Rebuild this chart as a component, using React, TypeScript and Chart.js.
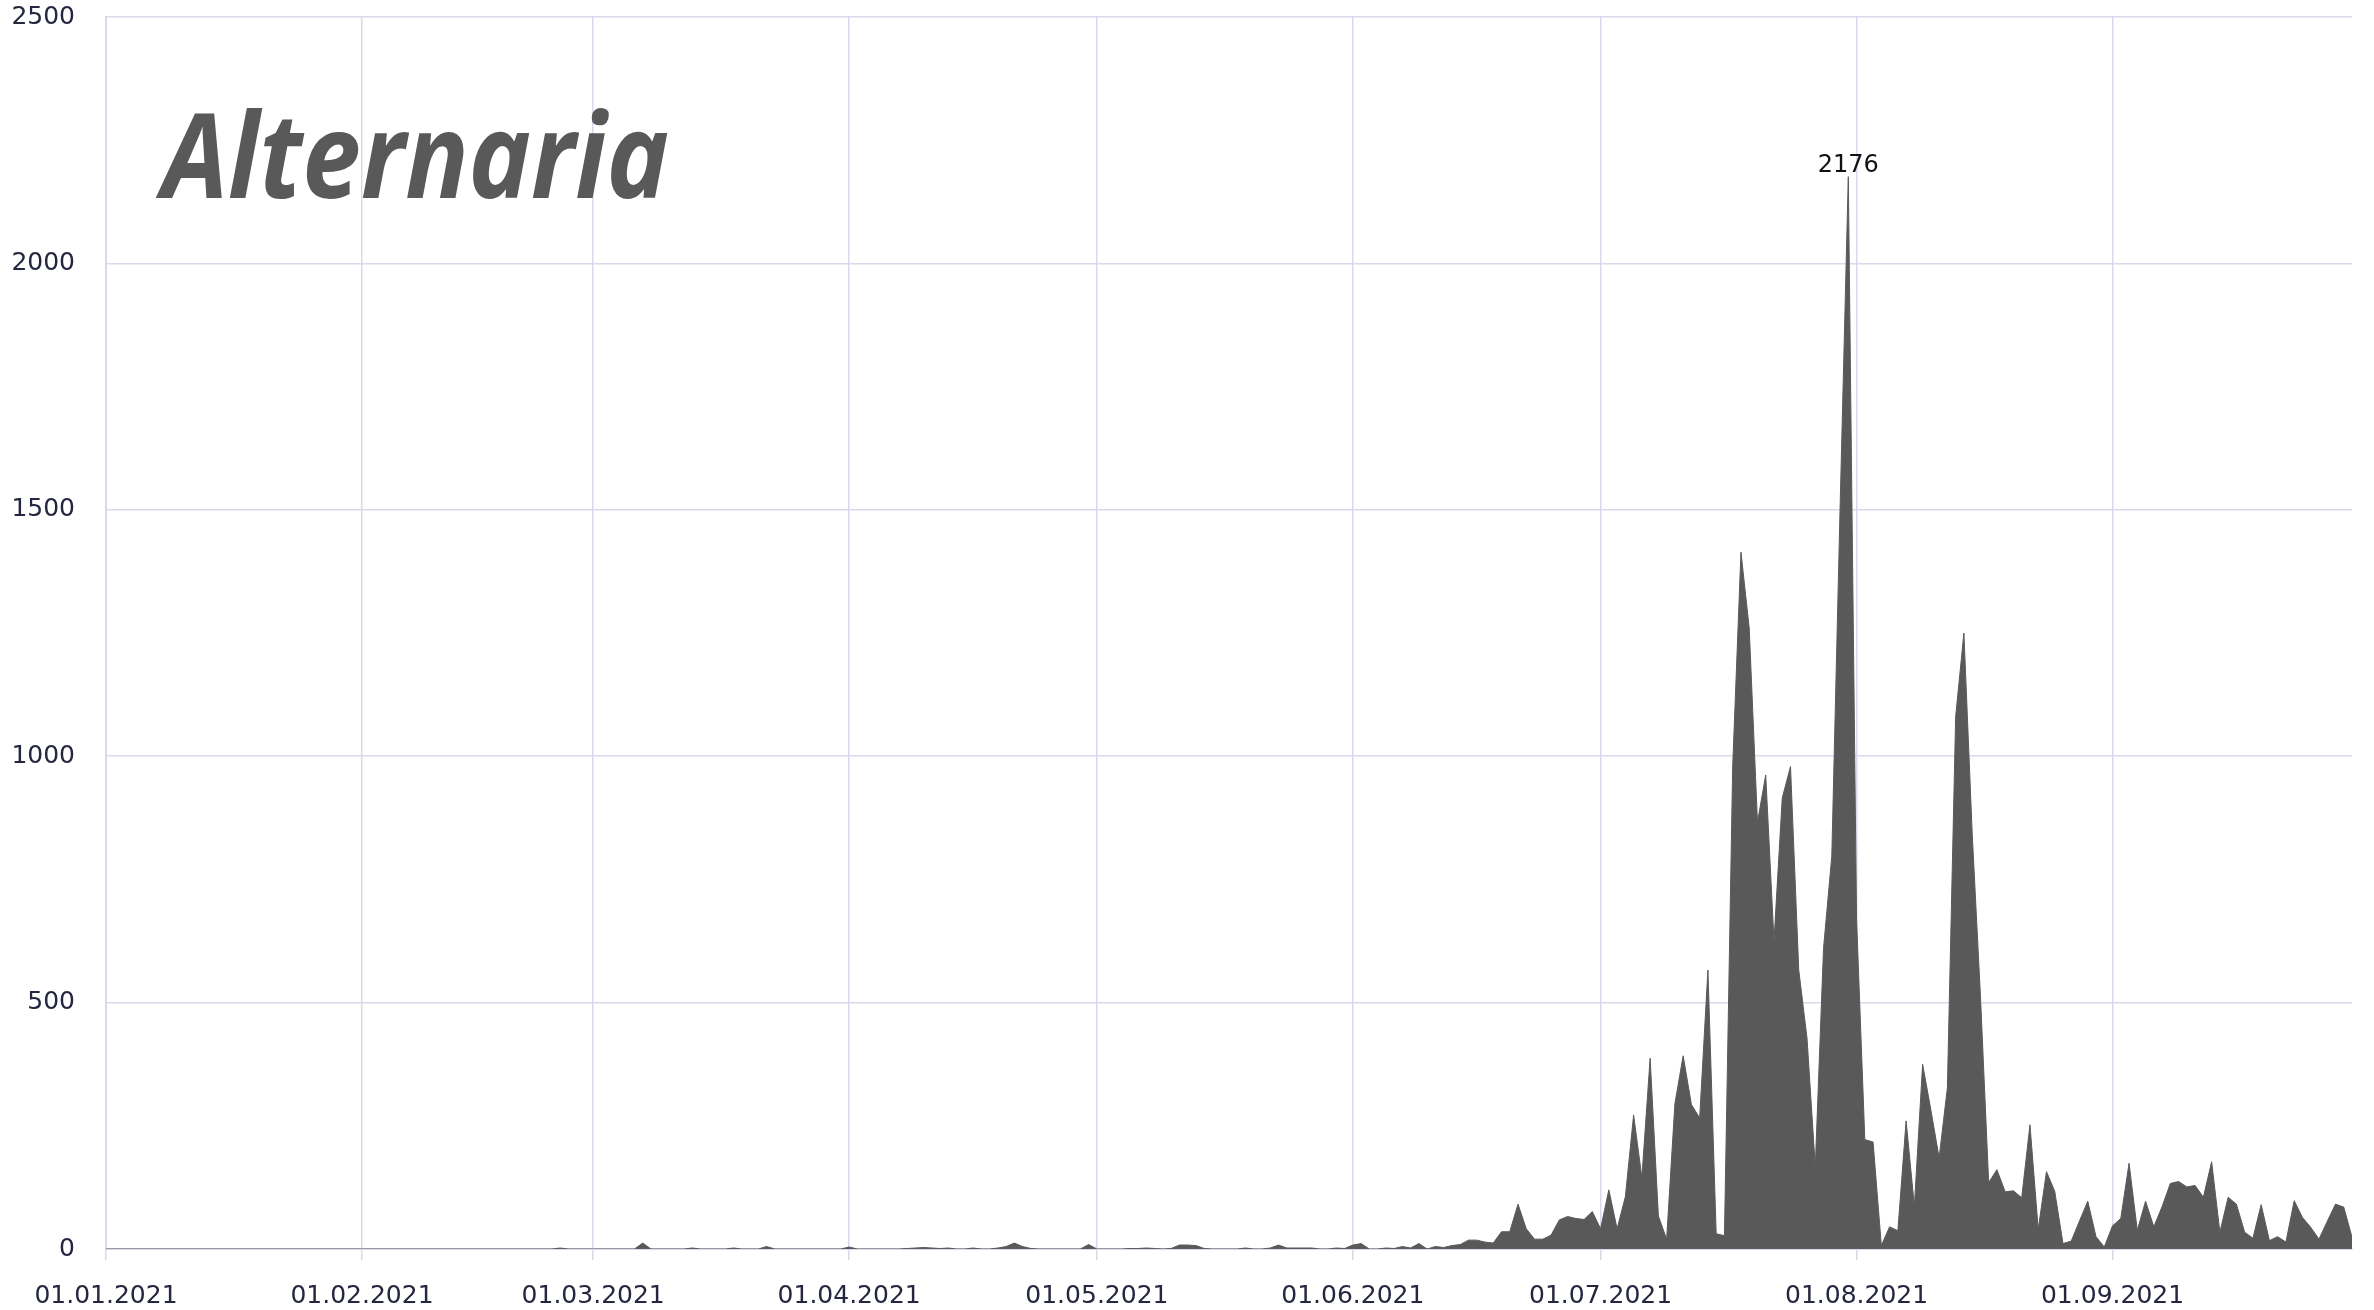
import React, { useEffect, useRef } from 'react';
import { Chart, registerables } from 'chart.js';

Chart.register(...registerables);

// Daily Alternaria counts, 2021, one array per month
const janValues = [
  0, 0, 0, 0, 0, 0, 0, 0, 0, 0, 0, 0, 0, 0, 0, 0, 0, 0, 0, 0, 0, 0, 0, 0, 0, 0, 0, 0, 0, 0, 0,
];
const febValues = [
  0, 0, 0, 0, 0, 0, 0, 0, 0, 0, 0, 0, 0, 0, 0, 0, 0, 0, 0, 0, 0, 0, 0, 0, 2, 0, 0, 0,
];
const marValues = [
  0, 0, 0, 0, 0, 0, 12, 0, 0, 0, 0, 0, 2, 0, 0, 0, 0, 2, 0, 0, 0, 5, 0, 0, 0, 0, 0, 0, 0, 0, 0,
];
const aprValues = [
  4, 0, 0, 0, 0, 0, 0, 1, 2, 3, 2, 1, 2, 0, 0, 2, 0, 0, 2, 5, 12, 5, 1, 0, 0, 0, 0, 0, 0, 9,
];
const mayValues = [
  0, 0, 0, 0, 1, 1, 2, 1, 0, 1, 8, 8, 7, 1, 0, 0, 0, 0, 2, 0, 0, 2, 8, 2, 2, 2, 2, 0, 0, 2, 1,
];
const junValues = [
  8, 11, 0, 0, 2, 1, 5, 2, 11, 0, 5, 3, 7, 9, 18, 18, 14, 12, 35, 35, 91, 41, 20, 20, 28, 59, 66, 62, 60, 76,
];
const julValues = [
  41, 120, 41, 106, 272, 145, 387, 67, 20, 295, 392, 293, 266, 566, 31, 27, 980, 1414, 1260, 866, 962, 625,
  915, 979, 566, 428, 167, 610, 797, 1500, 2176,
];
const augValues = [
  670, 222, 217, 7, 45, 37, 260, 87, 375, 282, 185, 327, 1080, 1250, 845, 515, 135, 161, 116, 118, 104, 252,
  40, 157, 117, 11, 16, 57, 97, 25, 4,
];
const sepValues = [
  47, 62, 174, 38, 97, 45, 86, 133, 137, 126, 129, 105, 177, 34, 105, 91, 34, 22, 90, 17, 25, 14, 98, 64, 44,
  20, 56, 91, 85, 24,
];

const monthSeries = [janValues, febValues, marValues, aprValues, mayValues, junValues, julValues, augValues, sepValues];

const tickLabels = [
  '01.01.2021',
  '01.02.2021',
  '01.03.2021',
  '01.04.2021',
  '01.05.2021',
  '01.06.2021',
  '01.07.2021',
  '01.08.2021',
  '01.09.2021',
];

const yTicks = [0, 500, 1000, 1500, 2000, 2500];
const titleText = 'Alternaria';

const GRID = '#d9d9ec';
const TICK_COLOR = '#24273f';
const FILL = '#595959';

export default function App() {
  const ref = useRef<HTMLCanvasElement | null>(null);

  useEffect(() => {
    if (!ref.current) return;
    const values: number[] = ([] as number[]).concat(...monthSeries);
    const monthStarts: number[] = [];
    let acc = 0;
    for (const m of monthSeries) {
      monthStarts.push(acc);
      acc += m.length;
    }
    const points = values.map((v, i) => ({ x: i, y: v }));
    const peakValue = Math.max(...values);
    const peakIdx = values.indexOf(peakValue);

    const overlay = {
      id: 'overlay',
      afterDatasetsDraw(chart: any) {
        const { ctx, chartArea, scales } = chart;
        ctx.save();
        // title
        ctx.font = 'italic bold 119px "Open Sans"';
        ctx.fillStyle = FILL;
        ctx.textAlign = 'left';
        ctx.textBaseline = 'alphabetic';
        ctx.fillText(titleText, chartArea.left + 56, chartArea.top + 181, 507);
        // peak label
        const px = scales.x.getPixelForValue(peakIdx);
        const py = scales.y.getPixelForValue(peakValue);
        ctx.font = '24px "DejaVu Sans"';
        ctx.fillStyle = '#111111';
        ctx.textAlign = 'center';
        ctx.fillText(String(peakValue), px, py - 5);
        ctx.restore();
      },
    };

    const chart = new Chart(ref.current, {
      type: 'line',
      data: {
        datasets: [
          {
            data: points,
            fill: 'origin',
            backgroundColor: FILL,
            borderColor: FILL,
            borderWidth: 1,
            pointRadius: 0,
            tension: 0,
          },
        ],
      },
      options: {
        animation: false,
        responsive: true,
        maintainAspectRatio: false,
        layout: { padding: { top: 17, right: 22, left: 0, bottom: 0 } },
        plugins: { legend: { display: false }, tooltip: { enabled: false } },
        scales: {
          x: {
            type: 'linear',
            min: 0,
            max: values.length - 1,
            afterBuildTicks: (s: any) => {
              s.ticks = monthStarts.map((v) => ({ value: v }));
            },
            afterFit: (s: any) => {
              s.height = 61;
            },
            ticks: {
              autoSkip: false,
              maxRotation: 0,
              padding: 21,
              color: TICK_COLOR,
              font: { family: '"DejaVu Sans"', size: 25 },
              callback: (_v: any, i: number) => tickLabels[i] ?? '',
            },
            grid: { color: GRID, lineWidth: 1.5, tickLength: 11, drawTicks: true },
            border: { color: GRID, width: 2 },
          },
          y: {
            min: 0,
            max: 2500,
            afterBuildTicks: (s: any) => {
              s.ticks = yTicks.map((v) => ({ value: v }));
            },
            afterFit: (s: any) => {
              s.width = 106;
              s.paddingTop = 0;
              s.paddingBottom = 0;
            },
            ticks: {
              padding: 31,
              color: TICK_COLOR,
              font: { family: '"DejaVu Sans"', size: 25 },
              callback: (v: any) => String(v),
            },
            grid: { color: GRID, lineWidth: 1.5, drawTicks: false },
            border: { color: GRID, width: 2 },
          },
        },
      },
      plugins: [overlay],
    } as any);

    return () => chart.destroy();
  }, []);

  return (
    <div style={{ position: 'fixed', left: 0, top: 0, width: '100vw', height: '100vh', background: '#ffffff' }}>
      <canvas ref={ref} />
    </div>
  );
}
